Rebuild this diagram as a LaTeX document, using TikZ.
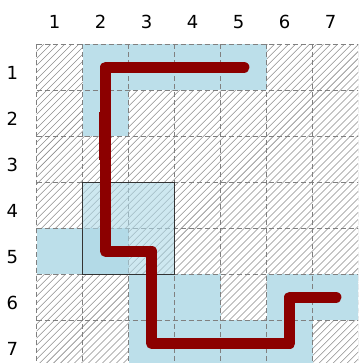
\documentclass[tikz,border=0pt]{standalone}
\usepackage{fontspec}
\setmainfont{DejaVu Sans}
\usepackage{xcolor}
\definecolor{lightblue}{HTML}{ADD8E6}
\usetikzlibrary{positioning,calc}

\begin{document}
\begin{tikzpicture}[
  x=46pt, y=-46pt,
  hatch/.style={draw=black!45, line width=0.55pt},
  cell/.style={fill=lightblue!82},
  gridline/.style={draw=black!50, line width=0.8pt, dash pattern=on 5pt off 3pt},
  block/.style={draw=black!80, line width=1.2pt, fill=lightblue, fill opacity=0.6},
  route/.style={draw=red!55!black, line width=11.5pt, line cap=round, line join=round},
  label/.style={inner sep=0pt, font=\fontsize{18}{20}\selectfont}
]
\useasboundingbox (-0.798,-0.963) rectangle (6.985,6.928);
\clip (-0.798,-0.963) rectangle (6.985,6.928);

% hatched background
\begin{scope}
  \clip (0,0) rectangle (7,7);
  \foreach \k in {0,...,95}
    \draw[hatch] ({-7+\k*0.152},7) -- ++(7,-7);
\end{scope}

% free cells (column, row)
\foreach \c/\r in {2/1,3/1,4/1,5/1,2/2,1/5,2/5,3/6,4/6,6/6,7/6,3/7,4/7,5/7,6/7}
  \fill[cell] (\c-1,\r-1) rectangle (\c,\r);

% grid
\foreach \i in {0,...,7} {
  \draw[gridline] (\i,0) -- (\i,7);
  \draw[gridline] (0,\i) -- (7,\i);
}

% labels
\foreach \k in {1,...,7} {
  \node[label] (col\k) at (\k-0.61,-0.485) {\k};
  \node[label] (row\k) at (-0.53,\k-0.376) {\k};
}

% highlighted block
\draw[block] (1,3) rectangle (3,5);

% route
\draw[route] (4.5,0.5) -- (1.5,0.5) -- (1.5,4.5) -- (2.5,4.5) -- (2.5,6.5)
  -- (5.5,6.5) -- (5.5,5.5) -- (6.5,5.5);
\draw[route, line cap=butt] (1.485,1.47) -- (1.485,2.52);
\end{tikzpicture}
\end{document}
